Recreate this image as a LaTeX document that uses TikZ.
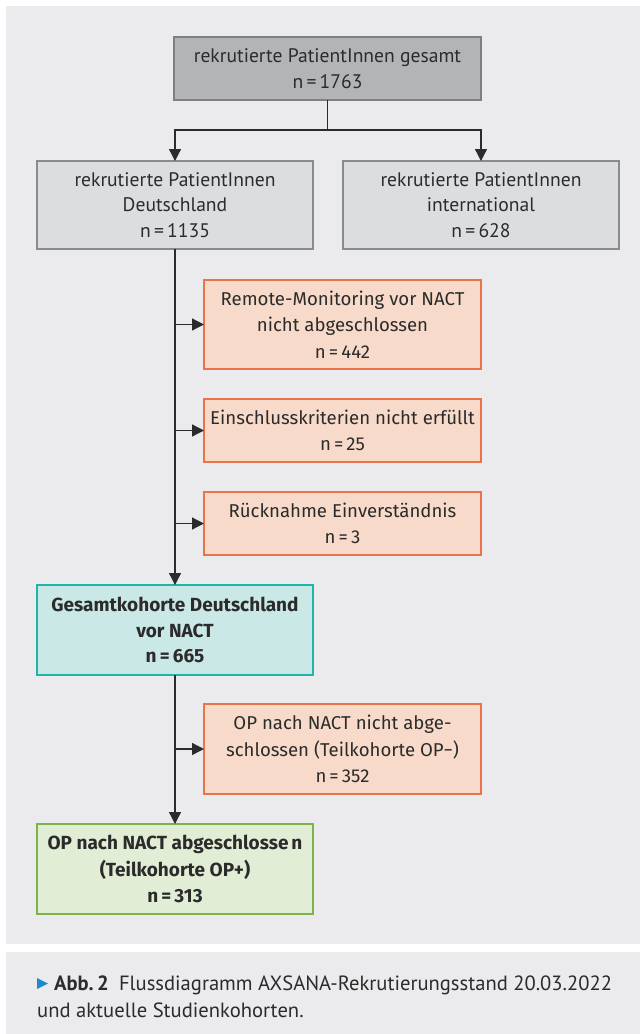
\documentclass[tikz,border=0pt]{standalone}
\usepackage{fontspec}
\setmainfont{PT Sans}
\newfontfamily\fira{Fira Sans}
\usetikzlibrary{arrows.meta}
\definecolor{panel}{HTML}{EBEBED}
\definecolor{topfill}{HTML}{B3B4B6}
\definecolor{topdraw}{HTML}{7E7F81}
\definecolor{grayfill}{HTML}{DCDDDF}
\definecolor{graydraw}{HTML}{8A8B8D}
\definecolor{orfill}{HTML}{F7DAC9}
\definecolor{ordraw}{HTML}{E8744A}
\definecolor{tealfill}{HTML}{C9E8E6}
\definecolor{tealdraw}{HTML}{1FB5A8}
\definecolor{grfill}{HTML}{E1EDD4}
\definecolor{grdraw}{HTML}{7FB247}
\definecolor{txt}{HTML}{2B2B2B}
\definecolor{capblue}{HTML}{1A8BD0}
\tikzset{
  box/.style={rectangle, inner sep=0pt, outer sep=0pt, line width=1.2pt, align=center, text=txt},
  graybox/.style={box, fill=grayfill, draw=graydraw, font=\fontsize{19.6}{25.5}\selectfont},
  topbox/.style={box, fill=topfill, draw=topdraw, font=\fontsize{19.6}{25.5}\selectfont},
  orbox/.style={box, fill=orfill, draw=ordraw, font=\fira\fontsize{18.6}{26.5}\selectfont},
  tealbox/.style={box, fill=tealfill, draw=tealdraw, font=\fira\bfseries\fontsize{19}{25.5}\selectfont},
  grbox/.style={box, fill=grfill, draw=grdraw, font=\fira\bfseries\fontsize{19}{26.5}\selectfont},
  conn/.style={line width=1.3pt, draw=txt},
  arr/.style={conn, -{Triangle[length=12pt,width=12pt]}},
}
\begin{document}
\begin{tikzpicture}[x=1pt,y=-1pt]
\useasboundingbox (0,0) rectangle (640,1034);
\fill[white] (0,0) rectangle (640,1034);
\fill[panel] (6,6) rectangle (640,944);
\fill[panel] (6,952) rectangle (640,1034);

\node[topbox, minimum width=307pt, minimum height=63pt] (top) at (327.5,68.5)
  {rekrutierte PatientInnen gesamt\\n\,=\,1763};
\node[graybox, minimum width=276pt, minimum height=88pt] (de) at (175,205)
  {rekrutierte PatientInnen\\Deutschland\\n\,=\,1135};
\node[graybox, minimum width=276pt, minimum height=88pt] (intl) at (481,205)
  {rekrutierte PatientInnen\\international\\n\,=\,628};
\node[orbox, minimum width=277pt, minimum height=89pt] (o1) at (342.5,324.5)
  {Remote-Monitoring vor NACT\\nicht abgeschlossen\\n\,=\,442};
\node[orbox, minimum width=277pt, minimum height=63pt] (o2) at (342.5,430.5)
  {Einschlusskriterien nicht erfüllt\\n\,=\,25};
\node[orbox, minimum width=277pt, minimum height=63pt] (o3) at (342.5,523.5)
  {Rücknahme Einverständnis\\n\,=\,3};
\node[tealbox, minimum width=276pt, minimum height=90pt] (teal) at (175,630)
  {Gesamtkohorte Deutschland\\vor NACT\\n\,=\,665};
\node[orbox, minimum width=277pt, minimum height=90pt] (o4) at (342.5,749)
  {OP nach NACT nicht abge-\\schlossen (Teilkohorte OP−)\\n\,=\,352};
\node[grbox, minimum width=276pt, minimum height=90pt] (gr) at (175,869)
  {OP nach NACT abgeschlosse\hspace{3pt}n\\(Teilkohorte OP+)\\n\,=\,313};

\coordinate (jn) at (327.5,130);
\draw[conn] (top.south) -- (jn);
\draw[arr] (jn) -| (de.north);
\draw[arr] (jn) -| (intl.north);
\draw[arr] (de.south) -- (teal.north);
\draw[arr] (de.south |- o1.west) -- (o1.west);
\draw[arr] (de.south |- o2.west) -- (o2.west);
\draw[arr] (de.south |- o3.west) -- (o3.west);
\draw[arr] (teal.south) -- (gr.north);
\draw[arr] (teal.south |- o4.west) -- (o4.west);

\fill[capblue] (37,978) -- (48,983.5) -- (37,989) -- cycle;
\node[anchor=base west, inner sep=0pt, text=txt, font=\fontsize{20.6}{27}\selectfont] (cap1) at (54,990)
  {\textbf{Abb.\,2}\enspace Flussdiagramm AXSANA-Rekrutierungsstand 20.03.2022};
\node[anchor=base west, inner sep=0pt, text=txt, font=\fontsize{20.6}{27}\selectfont] (cap2) at (37,1017)
  {und aktuelle Studienkohorten.};
\end{tikzpicture}
\end{document}
